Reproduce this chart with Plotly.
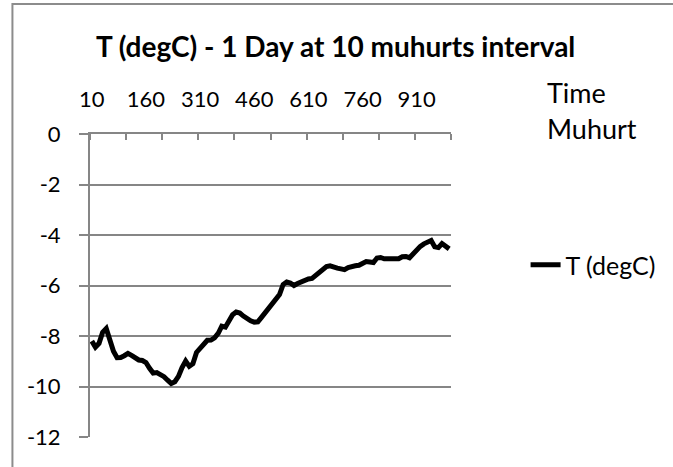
import plotly.graph_objects as go

# Categories: time in muhurts (10-muhurt interval)
time_muhurt = list(range(10, 1001, 10))

# T (degC) values
temp_degc = [
    -8.20, -8.44, -8.29, -7.85, -7.70, -8.12, -8.60, -8.86, -8.85, -8.78,
    -8.69, -8.77, -8.87, -8.95, -8.97, -9.05, -9.28, -9.47, -9.45, -9.51,
    -9.61, -9.75, -9.88, -9.81, -9.60, -9.25, -8.99, -9.20, -9.10, -8.65,
    -8.47, -8.29, -8.17, -8.16, -8.07, -7.90, -7.61, -7.65, -7.38, -7.16,
    -7.05, -7.09, -7.21, -7.33, -7.40, -7.45, -7.44, -7.26, -7.08, -6.89,
    -6.72, -6.56, -6.36, -5.96, -5.86, -5.90, -6.00, -5.92, -5.85, -5.77,
    -5.74, -5.72, -5.61, -5.50, -5.37, -5.25, -5.22, -5.28, -5.31, -5.34,
    -5.37, -5.29, -5.23, -5.22, -5.20, -5.11, -5.05, -5.07, -5.09, -4.91,
    -4.89, -4.94, -4.95, -4.95, -4.95, -4.94, -4.86, -4.85, -4.90, -4.73,
    -4.58, -4.45, -4.35, -4.26, -4.22, -4.47, -4.50, -4.34, -4.43, -4.55,
]

x_tick_labels = [10, 160, 310, 460, 610, 760, 910]
y_ticks = [0, -2, -4, -6, -8, -10, -12]

W, H = 673, 467
ML, MR, MT, MB = 90, 220, 134, 30
PW, PH = W - ML - MR, H - MT - MB

GRID = "#868686"
FONT = "Lato, 'Open Sans', sans-serif"

fig = go.Figure()
fig.add_trace(go.Scatter(
    x=time_muhurt, y=temp_degc, mode="lines", name="T (degC)",
    line=dict(color="black", width=5),
))


def px_x(p):
    return (p - ML) / PW


def px_y(p):
    return (H - MB - p) / PH


fig.update_layout(
    width=W, height=H,
    margin=dict(l=ML, r=MR, t=MT, b=MB),
    paper_bgcolor="white", plot_bgcolor="white",
    font=dict(family=FONT, size=22, color="black"),
    title=dict(text="<b>T (degC) - 1 Day at 10 muhurts interval</b>",
               x=px_x(337), xref="paper", xanchor="center",
               y=1 - 47 / H, yref="container", yanchor="middle",
               font=dict(family=FONT, size=28, color="black")),
    showlegend=True,
    legend=dict(x=px_x(528), xanchor="left", y=px_y(265), yanchor="middle",
                font=dict(family=FONT, size=25, color="black"),
                bgcolor="rgba(0,0,0,0)", borderwidth=0),
    xaxis=dict(
        side="top", range=[5, 1005],
        tickmode="array", tickvals=x_tick_labels,
        ticktext=[str(v) for v in x_tick_labels],
        ticks="", showgrid=False, zeroline=False,
        showline=True, linecolor=GRID, linewidth=2,
        ticklabelstandoff=16,
        tickfont=dict(family=FONT, size=22),
        minor=dict(tickmode="array", tickvals=list(range(5, 1006, 100)),
                   ticks="inside", ticklen=6, tickwidth=2, tickcolor=GRID,
                   showgrid=False),
    ),
    yaxis=dict(
        range=[-12, 0], tickmode="array", tickvals=y_ticks,
        ticktext=[str(v) for v in y_ticks],
        showgrid=True, gridcolor=GRID, gridwidth=2, zeroline=False,
        showline=True, linecolor=GRID, linewidth=2,
        ticks="outside", ticklen=9, tickwidth=2, tickcolor=GRID,
        ticklabelstandoff=14,
        tickfont=dict(family=FONT, size=22),
    ),
    annotations=[
        dict(text="Time", x=px_x(548), y=px_y(92), xref="paper", yref="paper",
             xanchor="left", yanchor="middle", showarrow=False,
             font=dict(family=FONT, size=27)),
        dict(text="Muhurt", x=px_x(548), y=px_y(128), xref="paper", yref="paper",
             xanchor="left", yanchor="middle", showarrow=False,
             font=dict(family=FONT, size=27)),
    ],
    shapes=[
        dict(type="rect", xref="paper", yref="paper", layer="below",
             x0=px_x(12), x1=px_x(W + 30), y0=px_y(H + 30), y1=px_y(4),
             line=dict(color="#8c8c8c", width=2), fillcolor="rgba(0,0,0,0)"),
    ],
)

fig.write_html("out.html", config={"displayModeBar": False},
               post_script="document.body.style.margin='0';")
